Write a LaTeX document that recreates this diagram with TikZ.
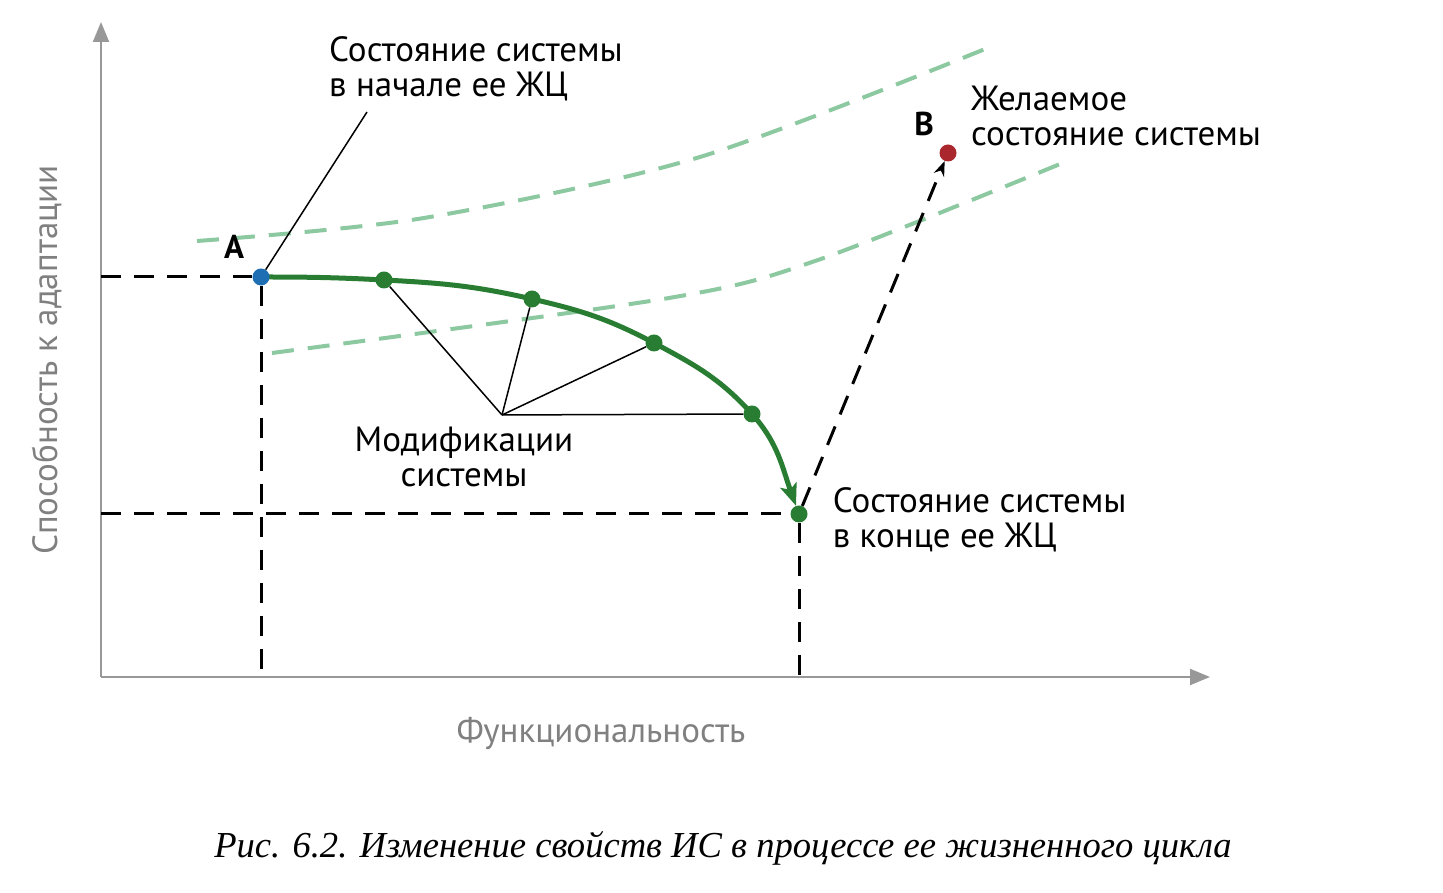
\documentclass[tikz,border=0pt]{standalone}
\usepackage{fontspec}
\setmainfont{Liberation Serif}
\newfontfamily\labelfont{PT Sans}
\usetikzlibrary{arrows.meta,positioning}
\pgfdeclarelayer{background}
\pgfsetlayers{background,main}

\definecolor{axisgray}{RGB}{152,152,152}
\definecolor{textgray}{RGB}{128,128,128}
\definecolor{trendgreen}{RGB}{40,125,50}
\definecolor{bandgreen}{RGB}{140,200,160}
\definecolor{startblue}{RGB}{30,110,180}
\definecolor{goalred}{RGB}{170,40,45}

\begin{document}
\begin{tikzpicture}[x=1pt,y=1pt,
    dot/.style={circle,inner sep=0pt,minimum size=17pt},
    lbl/.style={font=\labelfont\fontsize{35}{35}\selectfont,inner sep=0pt,align=left},
    tag/.style={font=\labelfont\bfseries\fontsize{33}{35}\selectfont,inner sep=0pt},
    guide/.style={black,line width=3pt,dash pattern=on 20pt off 13pt},
    band/.style={bandgreen,line width=4pt,dash pattern=on 22pt off 14pt},
    axis/.style={axisgray,line width=2pt,-{Triangle[length=20pt,width=16pt]}},
    trend/.style={trendgreen,line width=5pt,-{Stealth[length=22pt,width=17pt,inset=5pt]}},
    pointer/.style={black,line width=1.5pt}]
\useasboundingbox (0,0) rectangle (1443,893);

% axes
\coordinate (O) at (101,216);
\coordinate (ytip) at (101,871);
\coordinate (xtip) at (1210,216);

% states of the system
\node [dot,fill=startblue] (A) at (261,616) {};
\node [dot,fill=trendgreen] (m1) at (384,613) {};
\node [dot,fill=trendgreen] (m2) at (532,594) {};
\node [dot,fill=trendgreen] (m3) at (654,550) {};
\node [dot,fill=trendgreen] (m4) at (752,479) {};
\node [dot,fill=trendgreen] (E) at (799,379) {};
\node [dot,fill=goalred] (B) at (948,740) {};
\coordinate (hub) at (502,478);
\coordinate (tagend) at (367,781);

\node [tag] (Alabel) at (234,646) {A};
\node [tag] (Blabel) at (924,769) {B};

\node [lbl,anchor=west] (startlabel) at (329,824) {Состояние системы\\в начале ее ЖЦ};
\node [lbl,anchor=west] (goallabel) at (971,777) {Желаемое\\состояние системы};
\node [lbl,right=25pt of E,yshift=-6pt] (endlabel) {Состояние системы\\в конце ее ЖЦ};
\node [lbl,align=center] (modlabel) at (464,436) {Модификации\\системы};

\node [font=\labelfont\fontsize{35}{35}\selectfont,textgray,rotate=90] (ylabel) at (47,533) {Способность к адаптации};
\node [font=\labelfont\fontsize{35}{35}\selectfont,textgray] (xlabel) at (601,160) {Функциональность};
\node [font=\itshape\fontsize{36.6}{40}\selectfont] (caption) at (723,45) {Рис. 6.2. Изменение свойств ИС в процессе ее жизненного цикла};

\begin{pgfonlayer}{background}
\draw [band] plot [smooth] coordinates {(197,652) (424,675) (700,736) (990,846)};
\draw [band] plot [smooth] coordinates {(272,540) (669,595) (818,633) (1065,731)};
\draw [axis] (O) -- (ytip);
\draw [axis] (O) -- (xtip);
\draw [guide] (O |- A) -- (A);
\draw [guide] (A) -- (A |- O);
\draw [guide] (O |- E) -- (E);
\draw [guide] (E) -- (E |- O);
\draw [guide,-{Stealth[length=15pt,width=11pt]}] (E) -- (B);
\draw [pointer] (A) -- (tagend);
\draw [pointer] (hub) -- (m1);
\draw [pointer] (hub) -- (m2);
\draw [pointer] (hub) -- (m3);
\draw [pointer] (hub) -- (m4);
\draw [trend] (A.center) to[out=0,in=177] (m1.center) to[out=-3,in=167] (m2.center)
    to[out=-13,in=152] (m3.center) to[out=-28,in=132] (m4.center) to[out=-48,in=110] (E);
\end{pgfonlayer}
\end{tikzpicture}
\end{document}
